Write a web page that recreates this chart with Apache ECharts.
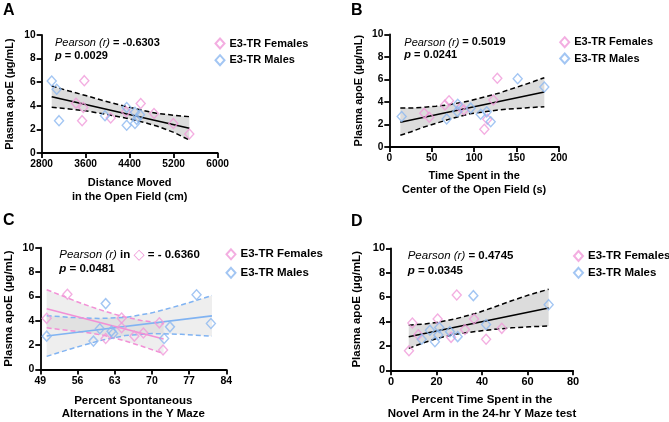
<!DOCTYPE html>
<html><head><meta charset="utf-8">
<script src="https://cdn.jsdelivr.net/npm/echarts@6/dist/echarts.min.js"></script>
<style>html,body{margin:0;padding:0;background:#fff}#c{width:669px;height:422px}</style>
</head><body><div id="c"></div><script>
// ---------- Panel A ----------
const aFemX = [3575, 3424, 3556, 3535, 4054, 4333, 4600, 4842, 5193, 5484];
const aFemY = [6.13, 4.21, 3.86, 2.74, 2.96, 3.5, 4.2, 3.35, 2.5, 1.61];
const aMaleX = [2982, 3073, 3115, 3951, 4345, 4345, 4496, 4587, 4527, 4496];
const aMaleY = [6.1, 5.4, 2.74, 3.16, 3.85, 2.35, 3.45, 3.25, 2.85, 2.5];
const aFitX = [2982, 5484];
const aFitY = [4.77, 2.09];
const aBandX = [2982, 3300, 3600, 3950, 4345, 4650, 4891, 5200, 5484];
const aBandUp = [5.68, 5.25, 4.87, 4.4, 3.93, 3.6, 3.36, 3.2, 3.08];
const aBandLo = [3.87, 3.73, 3.57, 3.3, 2.95, 2.6, 2.29, 1.75, 1.1];
const aXTicks = [2800, 3600, 4400, 5200, 6000];
// ---------- Panel B ----------
const bFemX = [41.2, 47.1, 65.6, 70.4, 84.1, 88, 112, 115.5, 122.6, 127.3];
const bFemY = [2.99, 2.64, 3.73, 4.11, 3.49, 3.28, 1.57, 2.46, 4.17, 6.1];
const bMaleX = [14.6, 67.6, 80.1, 80.6, 95.9, 107.7, 114.8, 119.5, 151.3, 182.7];
const bMaleY = [2.7, 2.48, 3.15, 3.8, 3.45, 2.9, 3.12, 2.24, 6.05, 5.33];
const bFitX = [13, 182.7];
const bFitY = [2.2, 4.88];
const bBandX = [13, 25, 40, 55, 70, 95, 130, 160, 182.7];
const bBandUp = [3.45, 3.45, 3.52, 3.62, 3.75, 4.1, 4.8, 5.55, 6.15];
const bBandLo = [1.05, 1.33, 1.75, 2.1, 2.45, 2.95, 3.3, 3.47, 3.58];
const bXTicks = [0, 50, 100, 150, 200];
// ---------- Panel C ----------
const cFemX = [50.2, 54.1, 61.3, 64.3, 64.3, 66.7, 68.4, 71.4, 72.1];
const cFemY = [4.2, 6.18, 2.55, 4.22, 3.43, 2.74, 3.0, 3.83, 1.6];
const cMaleX = [50.2, 59, 60.2, 61.3, 62.4, 62.7, 72.3, 73.4, 78.4, 81.1];
const cMaleY = [2.74, 2.33, 3.34, 5.41, 3.15, 2.95, 2.55, 3.5, 6.14, 3.78];
const cFemFitX = [50.2, 72.2];
const cFemFitY = [4.98, 2.5];
const cFemBandX = [50.2, 54, 57, 61, 64.3, 68, 72.2];
const cFemBandUp = [6.55, 5.9, 5.38, 4.8, 4.37, 4.03, 3.75];
const cFemBandLo = [3.42, 3.22, 3.08, 2.8, 2.43, 1.93, 1.3];
const cMaleFitX = [50.2, 81.3];
const cMaleFitY = [2.75, 4.4];
const cMaleBandX = [50.2, 55, 60, 65, 70, 75.5, 81.3];
const cMaleBandUp = [4.42, 4.27, 4.19, 4.27, 4.65, 5.29, 6.07];
const cMaleBandLo = [1.08, 1.73, 2.35, 2.79, 2.95, 2.89, 2.73];
const cXTicks = [49, 56, 63, 70, 77, 84];
// ---------- Panel D ----------
const dFemX = [7.9, 9.4, 12, 20.5, 26.4, 28.9, 32.5, 36.5, 41.8, 48.7];
const dFemY = [1.6, 3.88, 2.92, 4.2, 2.7, 6.17, 3.35, 4.2, 2.54, 3.44];
const dMaleX = [13.5, 17.1, 19.3, 20.8, 21.2, 25.9, 29.3, 36.2, 41.8, 69.3];
const dMaleY = [2.54, 3.28, 2.34, 2.9, 3.5, 3.17, 2.76, 6.12, 3.75, 5.38];
const dFitX = [7.8, 69.3];
const dFitY = [2.75, 5.1];
const dBandX = [7.8, 15, 20, 28, 37, 45, 53, 61, 69.3];
const dBandUp = [3.7, 3.8, 3.92, 4.2, 4.65, 5.15, 5.7, 6.2, 6.64];
const dBandLo = [1.8, 2.3, 2.6, 2.95, 3.18, 3.35, 3.48, 3.57, 3.63];
const dXTicks = [0, 20, 40, 60, 80];
// ---------- shared ----------
const yTicks = [0, 2, 4, 6, 8, 10];
const FEM_NAME = 'E3-TR Females', MALE_NAME = 'E3-TR Males';
const yName = 'Plasma apoE (µg/mL)';

const FONT = '"Liberation Sans", Arial, Helvetica, sans-serif';
const PINK = '#f09ad9', BLUE = '#8cb8f0';
const PINK_L = '#f290d6', BLUE_L = '#80b3f2';
const zip = (xs, ys) => xs.map((x, i) => [x, ys[i]]);

const grids = [
  {left: 41.7, top: 35, width: 176, height: 118},
  {left: 389.3, top: 34.3, width: 169.7, height: 112.7},
  {left: 40.3, top: 247.7, width: 186, height: 122.6},
  {left: 391, top: 248.3, width: 182, height: 122}
];

function axisCommon(ticks, fs) {
  return {
    axisLine: {show: true, onZero: false, lineStyle: {color: '#000', width: 1.8}},
    axisTick: {show: true, length: 5, inside: false, customValues: ticks, lineStyle: {color: '#000', width: 1.8}},
    axisLabel: {show: true, customValues: ticks, margin: 6, color: '#000', fontFamily: FONT, fontWeight: 'bold', fontSize: fs,
      formatter: v => String(v)},
    splitLine: {show: false}
  };
}
function xAxis(i, ticks, name, gap, lh, fs, nfs) {
  return Object.assign({
    gridIndex: i, type: 'value', min: ticks[0], max: ticks[ticks.length - 1],
    name: name, nameLocation: 'middle', nameGap: gap,
    nameTextStyle: {fontFamily: FONT, fontWeight: 'bold', fontSize: nfs, color: '#000', lineHeight: lh}
  }, axisCommon(ticks, fs));
}
function yAxis(i, gap, fs, nfs) {
  return Object.assign({
    gridIndex: i, type: 'value', min: yTicks[0], max: yTicks[yTicks.length - 1],
    name: yName, nameLocation: 'middle', nameGap: gap,
    nameTextStyle: {fontFamily: FONT, fontWeight: 'bold', fontSize: nfs, color: '#000'}
  }, axisCommon(yTicks, fs));
}
function scatter(i, name, xs, ys, color) {
  return {
    type: 'scatter', name: name, xAxisIndex: i, yAxisIndex: i, data: zip(xs, ys),
    symbol: 'diamond', symbolSize: [9, 10], z: 5,
    itemStyle: {color: 'rgba(255,255,255,0)', borderColor: color, borderWidth: 1.4},
    emphasis: {disabled: true}
  };
}
function line(i, xs, ys, color, dashed) {
  return {
    type: 'line', xAxisIndex: i, yAxisIndex: i, data: zip(xs, ys), symbol: 'none', z: 4,
    lineStyle: {color: color, width: dashed ? 1.5 : 1.6, type: dashed ? [5, 3] : 'solid'}, silent: true
  };
}
function bandFill(i, xs, up, lo, fill) {
  return {
    type: 'custom', xAxisIndex: i, yAxisIndex: i, data: zip(xs, up), z: 2, silent: true,
    renderItem: function (params, api) {
      if (params.dataIndex !== 0) return null;
      const top = xs.map((x, k) => api.coord([x, up[k]]));
      const bot = xs.map((x, k) => api.coord([x, lo[k]])).reverse();
      return {type: 'polygon', shape: {points: top.concat(bot)}, style: {fill: fill}};
    }
  };
}
function band(i, xs, up, lo, color, fill) {
  return [bandFill(i, xs, up, lo, fill), line(i, xs, up, color, true), line(i, xs, lo, color, true)];
}
function legend(left, top, gap, fs) {
  return {
    left: left, top: top, orient: 'vertical', padding: 0, itemWidth: 9, itemHeight: 10, itemGap: gap,
    selectedMode: false, data: [FEM_NAME, MALE_NAME],
    textStyle: {fontFamily: FONT, fontWeight: 'bold', fontSize: fs, color: '#000'}
  };
}
function stat(x, y, lh, fs, rText, pText, withDiamond) {
  const rich = {
    i: {fontFamily: FONT, fontStyle: 'italic', fontWeight: 'normal', fontSize: fs, fill: '#000', lineHeight: lh},
    b: {fontFamily: FONT, fontWeight: 'bold', fontSize: fs, fill: '#000', lineHeight: lh},
    ib: {fontFamily: FONT, fontStyle: 'italic', fontWeight: 'bold', fontSize: fs, fill: '#000', lineHeight: lh},
    d: {fontFamily: '"DejaVu Sans"', fontSize: fs + 3, fill: PINK, lineHeight: lh}
  };
  const first = withDiamond ? '{i|Pearson (r)}{b| in }{d|◇}{b| ' + rText + '}' : '{i|Pearson (r)}{b| ' + rText + '}';
  return {type: 'text', x: x, y: y, z: 10, silent: true,
    style: {text: first + '\n{ib|p}{b| ' + pText + '}', rich: rich, align: 'left', verticalAlign: 'top'}};
}
function letter(x, y, t) {
  return {type: 'text', x: x, y: y, z: 10, silent: true,
    style: {text: t, fontFamily: FONT, fontWeight: 'bold', fontSize: 16, fill: '#000', align: 'left', verticalAlign: 'top'}};
}

const GRAY = '#dcdcdc';
const CGRAY = 'rgba(185,185,185,0.24)';
const series = [].concat(
  band(0, aBandX, aBandUp, aBandLo, '#000', GRAY),
  [line(0, aFitX, aFitY, '#000', false), scatter(0, FEM_NAME, aFemX, aFemY, PINK), scatter(0, MALE_NAME, aMaleX, aMaleY, BLUE)],
  band(1, bBandX, bBandUp, bBandLo, '#000', GRAY),
  [line(1, bFitX, bFitY, '#000', false), scatter(1, FEM_NAME, bFemX, bFemY, PINK), scatter(1, MALE_NAME, bMaleX, bMaleY, BLUE)],
  band(2, cMaleBandX, cMaleBandUp, cMaleBandLo, BLUE_L, CGRAY),
  band(2, cFemBandX, cFemBandUp, cFemBandLo, PINK_L, CGRAY),
  [line(2, cMaleFitX, cMaleFitY, BLUE_L, false), line(2, cFemFitX, cFemFitY, PINK_L, false),
   scatter(2, FEM_NAME, cFemX, cFemY, PINK), scatter(2, MALE_NAME, cMaleX, cMaleY, BLUE)],
  band(3, dBandX, dBandUp, dBandLo, '#000', GRAY),
  [line(3, dFitX, dFitY, '#000', false), scatter(3, FEM_NAME, dFemX, dFemY, PINK), scatter(3, MALE_NAME, dMaleX, dMaleY, BLUE)]
);

const option = {
  animation: false,
  backgroundColor: '#fff',
  grid: grids,
  xAxis: [
    xAxis(0, aXTicks, 'Distance Moved\nin the Open Field (cm)', 23.6, 13.4, 10.2, 11),
    xAxis(1, bXTicks, 'Time Spent in the\nCenter of the Open Field (s)', 22, 14, 10.2, 11),
    xAxis(2, cXTicks, 'Percent Spontaneous\nAlternations in the Y Maze', 24.7, 13.4, 10.5, 11.5),
    xAxis(3, dXTicks, 'Percent Time Spent in the\nNovel Arm in the 24-hr Y Maze test', 23, 13.4, 11, 11.5)
  ],
  yAxis: [yAxis(0, 26, 10.2, 11), yAxis(1, 24.5, 10.2, 11), yAxis(2, 25, 10.5, 11.5), yAxis(3, 28, 11, 11.5)],
  legend: [legend(214.5, 37.5, 4.7, 11), legend(559.2, 36.2, 4.3, 11), legend(225.5, 248.3, 6.5, 11.5), legend(573, 250, 4.8, 11.5)],
  graphic: [
    letter(3, 3, 'A'), letter(351, 3, 'B'), letter(3, 213, 'C'), letter(351, 214, 'D'),
    stat(55, 36.5, 13, 11, '= -0.6303', '= 0.0029', false),
    stat(404.3, 36.2, 12.5, 11, '= 0.5019', '= 0.0241', false),
    stat(59.3, 248.5, 13.3, 11.5, '= - 0.6360', '= 0.0481', true),
    stat(407.7, 249, 14.5, 11.5, '= 0.4745', '= 0.0345', false)
  ],
  series: series
};
const chart = echarts.init(document.getElementById('c'), null, {renderer: 'canvas'});
chart.setOption(option);
</script></body></html>
